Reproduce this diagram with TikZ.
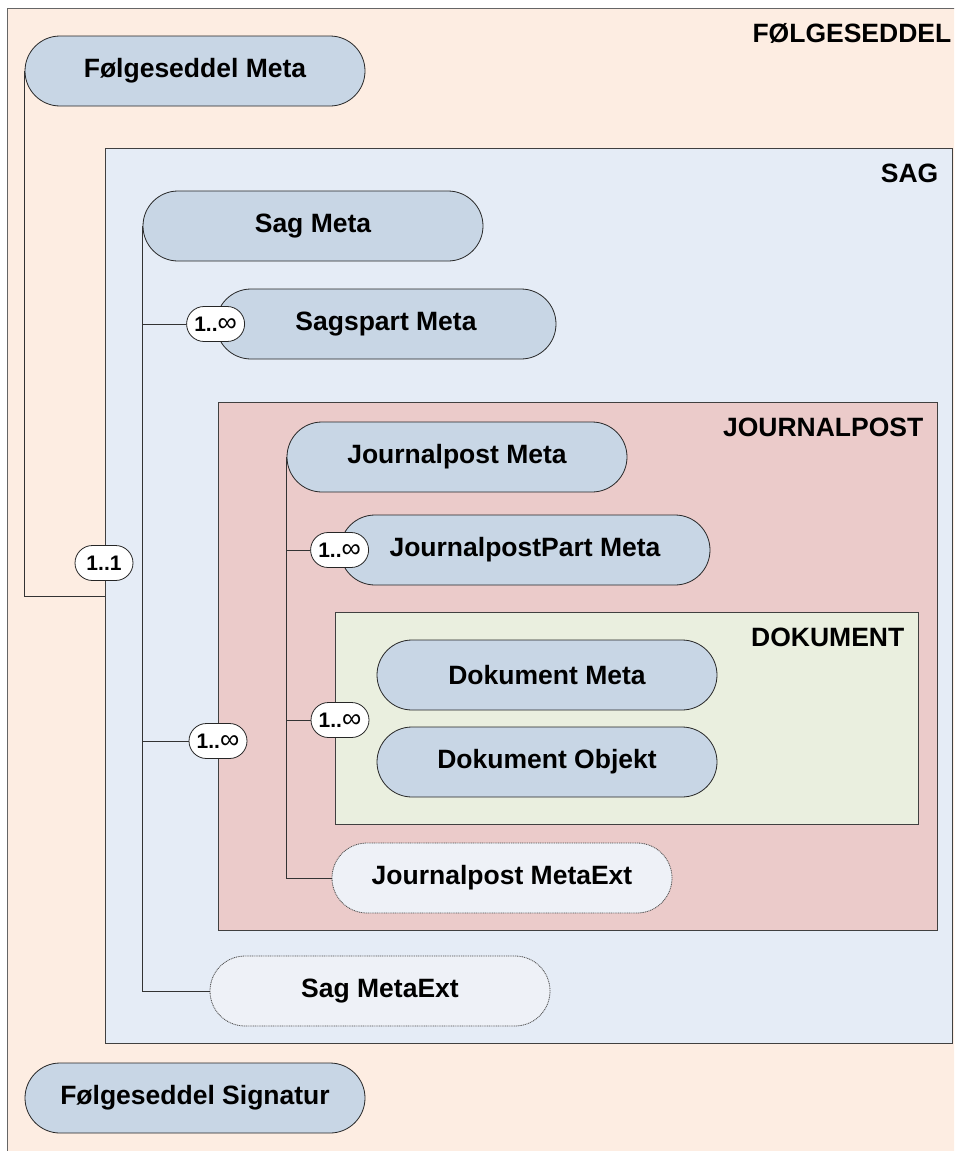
\documentclass[tikz,border=0pt]{standalone}
\usepackage{fontspec}
\setmainfont{Liberation Sans}
\usetikzlibrary{shapes.misc,positioning}

\definecolor{outerpeach}{HTML}{FDEDE2}
\definecolor{sagblue}{HTML}{E5ECF6}
\definecolor{jprose}{HTML}{EBCBCA}
\definecolor{dokgreen}{HTML}{EAEFDF}
\definecolor{metablue}{HTML}{C8D6E5}
\definecolor{extblue}{HTML}{EEF1F7}

\newcommand{\manyinf}{1..{\mdseries\fontsize{27}{24}\selectfont ∞}}

\tikzset{
  meta/.style={rounded rectangle, draw=black!85, line width=0.8pt, fill=metablue,
    minimum width=340pt, minimum height=70pt, inner sep=0pt,
    font=\bfseries\fontsize{26.5}{30}\selectfont},
  metaext/.style={meta, fill=extblue, draw=black!70, dash pattern=on 1pt off 0.8pt},
  count/.style={rounded rectangle, draw=black!85, line width=0.8pt, fill=white,
    minimum width=60pt, minimum height=35pt, inner sep=1pt,
    font=\bfseries\fontsize{21}{24}\selectfont},
  group/.style={rectangle, draw=black!75, line width=0.8pt, anchor=north west, inner sep=0pt},
  grouptitle/.style={anchor=base east, font=\bfseries\fontsize{26.5}{30}\selectfont},
  tree/.style={draw=black!80, line width=0.8pt}
}

\begin{document}
\begin{tikzpicture}[x=1pt, y=-1pt]

\useasboundingbox (0,0) rectangle (954,1151);
\clip (0,0) rectangle (954,1151);

% Groups
\node (fbox) [group, fill=outerpeach, draw=black!60, minimum width=958pt, minimum height=1170pt] at (7,8) {};
\node (sagbox) [group, fill=sagblue, minimum width=847pt, minimum height=895pt] at (105,148) {};
\node (jpbox) [group, fill=jprose, minimum width=719pt, minimum height=528pt] at (218,402) {};
\node (dokbox) [group, fill=dokgreen, minimum width=583pt, minimum height=212pt] at (335,612) {};

\node [grouptitle] at ([shift={(-11,34)}]fbox.north east) {FØLGESEDDEL};
\node [grouptitle] at ([shift={(-11,34)}]sagbox.north east) {SAG};
\node [grouptitle] at ([shift={(-11,34)}]jpbox.north east) {JOURNALPOST};
\node [grouptitle] at ([shift={(-11,34)}]dokbox.north east) {DOKUMENT};

% Nodes
\node (fmeta) [meta] at (195,71) {Følgeseddel Meta};
\node (fsign) [meta] at (195,1098) {Følgeseddel Signatur};
\node (sagmeta) [meta] at (313,226) {Sag Meta};
\node (sagpart) [meta] at (386,324) {Sagspart Meta};
\node (sagext) [metaext] at (380,991) {Sag MetaExt};
\node (jpmeta) [meta] at (457,457) {Journalpost Meta};
\node (jppart) [meta, minimum width=370pt] at (525,550) {JournalpostPart Meta};
\node (jpext) [metaext] at (502,878) {Journalpost MetaExt};
\node (dokmeta) [meta] at (547,675) {Dokument Meta};
\node (dokobj) [meta] at (547,762) {Dokument Objekt};

% Tree lines
\draw[tree] (fmeta.west) |- (sagbox.west);
\draw[tree] (sagmeta.west) |- (sagext.west);
\draw[tree] (jpmeta.west) |- (jpext.west);

% Counts
\node (c11) [count] at (104,563) {1..1};
\node (csagpart) [count] at (sagpart.west) {\manyinf};
\node (cjp) [count] at (218,741) {\manyinf};
\node (cjppart) [count] at (jppart.west) {\manyinf};
\node (cdok) [count] at (340,720) {\manyinf};

\draw[tree] (sagmeta.west |- csagpart) -- (csagpart);
\draw[tree] (sagmeta.west |- cjp) -- (cjp);
\draw[tree] (jpmeta.west |- cjppart) -- (cjppart);
\draw[tree] (jpmeta.west |- cdok) -- (cdok);

\end{tikzpicture}
\end{document}
